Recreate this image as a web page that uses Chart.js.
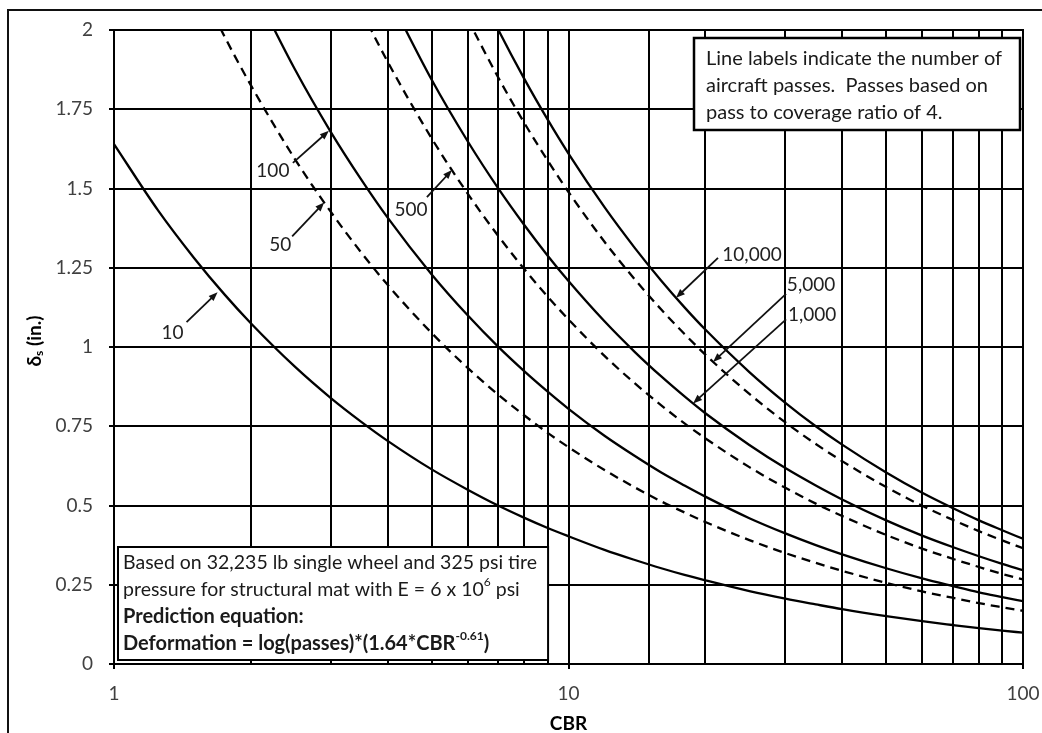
<!DOCTYPE html>
<html>
<head>
<meta charset="utf-8">
<style>
  html, body { margin: 0; padding: 0; background: #fff; }
  #wrap { width: 1042px; height: 733px; }
</style>
<script src="https://cdn.jsdelivr.net/npm/chart.js@4.4.1/dist/chart.umd.min.js"></script>
</head>
<body>
<div id="wrap"><canvas id="c" width="1042" height="733"></canvas></div>
<script>
// CBR sample points shared by every curve
const cbr = [1, 1.25, 1.5, 1.75, 2, 2.5, 3, 3.5, 4, 5, 6, 7, 8, 9, 10, 12, 14, 16, 18, 20, 25, 30, 35, 40, 50, 60, 70, 80, 90, 100];

// Surface deformation (in.) for each number of aircraft passes
const passes10 = [1.640, 1.431, 1.281, 1.166, 1.075, 0.938, 0.839, 0.764, 0.704, 0.614, 0.550, 0.500, 0.461, 0.429, 0.403, 0.360, 0.328, 0.302, 0.281, 0.264, 0.230, 0.206, 0.188, 0.173, 0.151, 0.135, 0.123, 0.113, 0.105, 0.099];
const passes50 = [null, null, 2.176, 1.980, 1.826, 1.593, 1.426, 1.298, 1.196, 1.044, 0.934, 0.850, 0.784, 0.729, 0.684, 0.612, 0.557, 0.513, 0.478, 0.448, 0.391, 0.350, 0.319, 0.294, 0.256, 0.229, 0.209, 0.192, 0.179, 0.168];
const passes100 = [null, null, null, null, 2.149, 1.876, 1.678, 1.528, 1.408, 1.229, 1.100, 1.001, 0.923, 0.859, 0.805, 0.720, 0.656, 0.604, 0.563, 0.528, 0.460, 0.412, 0.375, 0.346, 0.302, 0.270, 0.246, 0.226, 0.211, 0.198];
const passes500 = [null, null, null, null, null, null, null, 2.061, 1.900, 1.658, 1.484, 1.351, 1.245, 1.159, 1.087, 0.972, 0.885, 0.816, 0.759, 0.712, 0.621, 0.556, 0.506, 0.467, 0.407, 0.364, 0.332, 0.306, 0.284, 0.267];
const passes1000 = [null, null, null, null, null, null, null, null, 2.112, 1.843, 1.649, 1.501, 1.384, 1.288, 1.208, 1.081, 0.984, 0.907, 0.844, 0.791, 0.691, 0.618, 0.563, 0.519, 0.453, 0.405, 0.369, 0.340, 0.316, 0.296];
const passes5000 = [null, null, null, null, null, null, null, null, null, null, 2.034, 1.851, 1.706, 1.588, 1.489, 1.332, 1.213, 1.118, 1.041, 0.976, 0.852, 0.762, 0.694, 0.640, 0.558, 0.499, 0.455, 0.419, 0.390, 0.365];
const passes10000 = [null, null, null, null, null, null, null, null, null, null, 2.199, 2.002, 1.845, 1.717, 1.610, 1.441, 1.312, 1.209, 1.125, 1.055, 0.921, 0.824, 0.750, 0.692, 0.604, 0.540, 0.492, 0.453, 0.422, 0.395];

// Tick labels
const xTickLabels = [1, 10, 100];
const yTickLabels = [0, 0.25, 0.5, 0.75, 1, 1.25, 1.5, 1.75, 2];

// Curve callouts: arrow tip on the curve (CBR, deformation)
const callouts = [
  { text: '10',     cbr: 1.69,  val: 1.173, tail: [-31, 30],  label: [-45, 41] },
  { text: '100',    cbr: 2.97,  val: 1.682, tail: [-36, 32],  label: [-56, 40] },
  { text: '50',     cbr: 2.90,  val: 1.456, tail: [-32, 34],  label: [-44, 42] },
  { text: '500',    cbr: 5.54,  val: 1.558, tail: [-25, 27],  label: [-41, 40] },
  { text: '10,000', cbr: 17.24, val: 1.155, tail: [42, -40],  label: [76, -43] },
  { text: '5,000',  cbr: 20.8,  val: 0.953, tail: [73, -68],  label: [98, -77] },
  { text: '1,000',  cbr: 18.8,  val: 0.822, tail: [93, -84],  label: [119, -89] }
];

const series = [
  { name: '10', values: passes10, dashed: false },
  { name: '50', values: passes50, dashed: true },
  { name: '100', values: passes100, dashed: false },
  { name: '500', values: passes500, dashed: true },
  { name: '1,000', values: passes1000, dashed: false },
  { name: '5,000', values: passes5000, dashed: true },
  { name: '10,000', values: passes10000, dashed: false }
];

const FONT = 'Lato, "Open Sans", sans-serif';

function isDecade(v) {
  const l = Math.log10(v);
  return Math.abs(l - Math.round(l)) < 1e-9;
}

// Draws a run of text pieces, some raised (sup) or lowered (sub)
function drawRich(ctx, parts, x, y, size, weight) {
  let cx = x;
  parts.forEach(p => {
    const small = p.sup || p.sub;
    const s = small ? Math.round(size * 0.62) : size;
    ctx.font = `${weight} ${s}px ${FONT}`;
    const dy = p.sup ? -size * 0.38 : (p.sub ? size * 0.22 : 0);
    ctx.fillText(p.t, cx, y + dy);
    cx += ctx.measureText(p.t).width;
  });
  return cx - x;
}
function richWidth(ctx, parts, size, weight) {
  let w = 0;
  parts.forEach(p => {
    const small = p.sup || p.sub;
    const s = small ? Math.round(size * 0.62) : size;
    ctx.font = `${weight} ${s}px ${FONT}`;
    w += ctx.measureText(p.t).width;
  });
  return w;
}

function drawArrow(ctx, x1, y1, x2, y2) {
  const ang = Math.atan2(y2 - y1, x2 - x1);
  const head = 9, half = 3.5;
  ctx.beginPath();
  ctx.moveTo(x1, y1);
  ctx.lineTo(x2 - Math.cos(ang) * head * 0.7, y2 - Math.sin(ang) * head * 0.7);
  ctx.lineWidth = 1.8;
  ctx.strokeStyle = '#111';
  ctx.stroke();
  ctx.beginPath();
  ctx.moveTo(x2, y2);
  ctx.lineTo(x2 - Math.cos(ang) * head - Math.sin(ang) * half, y2 - Math.sin(ang) * head + Math.cos(ang) * half);
  ctx.lineTo(x2 - Math.cos(ang) * head + Math.sin(ang) * half, y2 - Math.sin(ang) * head - Math.cos(ang) * half);
  ctx.closePath();
  ctx.fillStyle = '#111';
  ctx.fill();
}

const basisLines = [
  { parts: [{ t: 'Based on 32,235 lb single wheel and 325 psi tire' }], weight: 'normal', size: 19.5 },
  { parts: [{ t: 'pressure for structural mat with E = 6 x 10' }, { t: '6', sup: true }, { t: ' psi' }], weight: 'normal', size: 19.5 },
  { parts: [{ t: 'Prediction equation:' }], weight: 'bold', size: 20 },
  { parts: [{ t: 'Deformation = log(passes)*(1.64*CBR' }, { t: '-0.61', sup: true }, { t: ')' }], weight: 'bold', size: 20 }
];

const decorations = {
  id: 'decorations',
  beforeDraw(chart) {
    const ctx = chart.ctx;
    ctx.save();
    ctx.fillStyle = '#fff';
    ctx.fillRect(0, 0, chart.width, chart.height);
    // outer frame (left and top edges)
    ctx.strokeStyle = '#111';
    ctx.lineWidth = 2;
    ctx.beginPath();
    ctx.moveTo(8, chart.height);
    ctx.lineTo(8, 10);
    ctx.lineTo(chart.width, 10);
    ctx.stroke();
    ctx.restore();
  },
  beforeDatasetsDraw(chart) {
    const { ctx, chartArea: a } = chart;
    ctx.save();
    ctx.strokeStyle = '#000';
    ctx.lineWidth = 2;
    ctx.strokeRect(a.left, a.top, a.right - a.left, a.bottom - a.top);
    ctx.restore();
  },
  afterDatasetsDraw(chart) {
    const { ctx, scales } = chart;
    const xs = scales.x, ys = scales.y;
    ctx.save();

    // callout arrows and pass counts
    ctx.textAlign = 'center';
    ctx.textBaseline = 'middle';
    callouts.forEach(c => {
      const px = xs.getPixelForValue(c.cbr);
      const py = ys.getPixelForValue(c.val);
      drawArrow(ctx, px + c.tail[0], py + c.tail[1], px, py);
      ctx.font = `19px ${FONT}`;
      ctx.fillStyle = '#222';
      ctx.fillText(c.text, px + c.label[0], py + c.label[1]);
    });

    // note box, upper right
    ctx.fillStyle = '#fff';
    ctx.fillRect(694, 38, 326, 92);
    ctx.strokeStyle = '#000';
    ctx.lineWidth = 2.5;
    ctx.strokeRect(694, 38, 326, 92);
    ctx.fillStyle = '#1a1a1a';
    ctx.textAlign = 'left';
    ctx.textBaseline = 'middle';
    ctx.font = `20px ${FONT}`;
    ['Line labels indicate the number of',
     'aircraft passes.  Passes based on',
     'pass to coverage ratio of 4.'].forEach((t, i) => ctx.fillText(t, 706, 59 + i * 27));

    // basis box, lower left, sized to its longest line
    const textX = 123;
    const maxW = Math.max(...basisLines.map(l => richWidth(ctx, l.parts, l.size, l.weight)));
    const boxW = (textX - 118) + maxW + 11;
    ctx.fillStyle = '#fff';
    ctx.fillRect(118, 547, boxW, 113);
    ctx.strokeStyle = '#000';
    ctx.lineWidth = 2;
    ctx.strokeRect(118, 547, boxW, 113);
    ctx.fillStyle = '#1a1a1a';
    basisLines.forEach((l, i) => drawRich(ctx, l.parts, textX, 563 + i * 27, l.size, l.weight));

    // vertical axis title with subscript
    const tparts = [{ t: 'δ' }, { t: 's', sub: true }, { t: ' (in.)' }];
    const tw = richWidth(ctx, tparts, 19, 'bold');
    ctx.translate(35, (chart.chartArea.top + chart.chartArea.bottom) / 2 - 6);
    ctx.rotate(-Math.PI / 2);
    ctx.fillStyle = '#000';
    drawRich(ctx, tparts, -tw / 2, 0, 19, 'bold');
    ctx.restore();
  }
};

new Chart(document.getElementById('c'), {
  type: 'line',
  data: {
    datasets: series.map(s => ({
      label: s.name,
      data: cbr.map((x, i) => ({ x: x, y: s.values[i] })),
      borderColor: '#000',
      borderWidth: 2.3,
      borderDash: s.dashed ? [9, 6] : [],
      pointRadius: 0,
      fill: false,
      cubicInterpolationMode: 'monotone',
      spanGaps: false
    }))
  },
  options: {
    responsive: false,
    animation: false,
    events: [],
    layout: { padding: { left: 0, top: 30, right: 19, bottom: 0 } },
    plugins: { legend: { display: false }, tooltip: { enabled: false } },
    scales: {
      x: {
        type: 'logarithmic',
        min: 1,
        max: 100,
        afterFit(s) { s.height = 69; s.paddingLeft = 0; s.paddingRight = 0; },
        grid: {
          color: '#000',
          lineWidth: 2,
          drawTicks: true,
          tickLength: 5,
          tickColor: c => (c.tick && isDecade(c.tick.value)) ? '#000' : 'rgba(0,0,0,0)'
        },
        border: { display: true, color: '#000', width: 2 },
        ticks: {
          autoSkip: false,
          maxRotation: 0,
          padding: 13,
          color: '#404040',
          font: { family: FONT, size: 19 },
          callback: v => xTickLabels.find(t => Math.abs(t - v) < 1e-9) !== undefined ? String(v) : ''
        },
        title: {
          display: true,
          text: 'CBR',
          color: '#000',
          font: { family: FONT, size: 19, weight: 'bold', lineHeight: 1 },
          padding: { top: 0, bottom: 0 }
        }
      },
      y: {
        min: 0,
        max: 2,
        afterFit(s) { s.width = 114; s.paddingTop = 0; s.paddingBottom = 0; },
        afterBuildTicks(s) { s.ticks = yTickLabels.map(v => ({ value: v })); },
        grid: { color: '#000', lineWidth: 2, drawTicks: true, tickLength: 5, tickColor: '#000' },
        border: { display: true, color: '#000', width: 2 },
        ticks: {
          padding: 16,
          color: '#404040',
          font: { family: FONT, size: 19 },
          callback: v => String(+v.toFixed(2))
        }
      }
    }
  },
  plugins: [decorations]
});
</script>
</body>
</html>
